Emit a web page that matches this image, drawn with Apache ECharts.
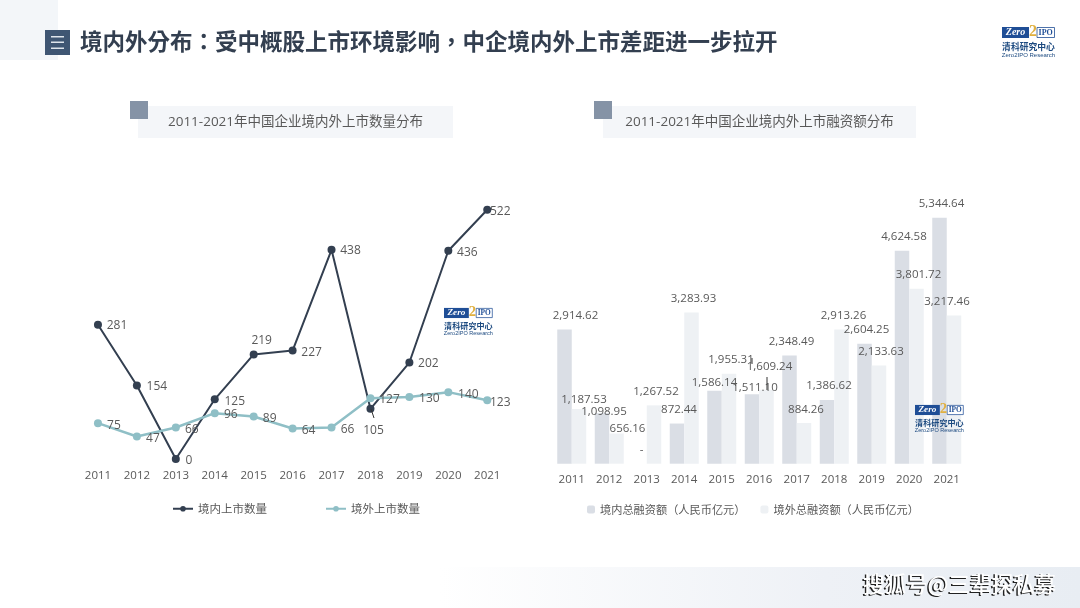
<!DOCTYPE html>
<html lang="en">

<head>
  <meta charset="UTF-8">
  <title>境内外分布</title>
  <script src="https://cdn.jsdelivr.net/npm/echarts@6/dist/echarts.min.js"></script>
  <style>
    html, body { margin: 0; padding: 0; background: #fff; }
    #echarts { width: 1080px; height: 608px; }
  </style>
</head>

<body>
  <div id="echarts"></div>

  <script>
    const years = ['2011','2012','2013','2014','2015','2016','2017','2018','2019','2020','2021'];

    // 上市数量
    const domesticCount = [281,154,0,125,219,227,438,105,202,436,522];
    const overseasCount = [75,47,66,96,89,64,66,127,130,140,123];

    // 融资额（人民币亿元）
    const domesticAmount = [2914.62,1098.95,0,872.44,1586.14,1511.10,2348.49,1386.62,2604.25,4624.58,5344.64];
    const overseasAmount = [1187.53,656.16,1267.52,3283.93,1955.31,1609.24,884.26,2913.26,2133.63,3801.72,3217.46];

    // 标签偏移（相对于默认位置），原图的标签是手工挪过的
    const domesticCountOffset = [[19,1],[20,1],[13,2],[20,2],[8,-14],[19,2],[19,1],[3,22],[19,1],[19,2],[13,2]];
    const overseasCountOffset = [[16,2],[16,2],[16,2],[16,1],[16,2],[16,2],[16,2],[19,1],[20,2],[20,2],[13,2]];
    const domesticAmountOffset = [[11,-3],[2,9],[2,-3],[2,-3],[0,3],[3,4],[2,-3],[2,-3],[2,-3],[2,-3],[2,-3]];
    const overseasAmountOffset = [[5,1],[11,6],[2,-3],[2,-3],[2,-3],[3,-12],[2,-3],[2,-3],[2,-3],[2,-3],[-7,-3]];

    const fontFamily = '"Open Sans","Noto Sans CJK SC",sans-serif';
    const cjkFont = '"Noto Sans CJK SC",sans-serif';
    // TC 字形的标点居中，和原图一致
    const punctFont = '"Noto Sans CJK TC",sans-serif';
    const textColor = '#595959';

    const pointLabels = (values, offsets) => values.map((v, i) => ({
      value: v,
      label: { offset: offsets[i] }
    }));

    const money = v => v === 0 ? '-' : v.toLocaleString('en-US', { minimumFractionDigits: 2, maximumFractionDigits: 2 });

    const lineSeries = (name, values, offsets, color, width) => ({
      name: name,
      type: 'line',
      xAxisIndex: 0,
      yAxisIndex: 0,
      symbol: 'circle',
      symbolSize: 8,
      lineStyle: { color: color, width: width },
      itemStyle: { color: color },
      label: { show: true, position: 'inside', color: textColor, fontSize: 12, fontFamily: fontFamily },
      data: pointLabels(values, offsets)
    });

    const barSeries = (name, values, offsets, color) => ({
      name: name,
      type: 'bar',
      xAxisIndex: 1,
      yAxisIndex: 1,
      barWidth: 14.5,
      barGap: 0,
      itemStyle: { color: color },
      label: {
        show: true, position: 'top', distance: 5, color: textColor, fontSize: 11.5, fontFamily: fontFamily,
        formatter: p => money(p.value)
      },
      data: pointLabels(values, offsets)
    });

    // Zero2IPO 角标
    const logo = (x, y, s) => ({
      type: 'group', x: x, y: y, scaleX: s, scaleY: s,
      children: [
        { type: 'rect', z: 100, shape: { x: 0, y: 1, width: 27, height: 11 }, style: { fill: '#1f4e96' } },
        { type: 'rect', z: 100, shape: { x: 35, y: 1.5, width: 17.5, height: 10 }, style: { fill: '#fff', stroke: '#1f4e96', lineWidth: 0.8 } },
        { type: 'text', z: 101, x: 13.5, y: 6.5, style: { text: 'Zero', fill: '#fff', font: 'italic bold 10px "Liberation Serif"', align: 'center', verticalAlign: 'middle' } },
        { type: 'text', z: 101, x: 31, y: 6, style: { text: '2', fill: '#e0b040', font: 'bold 16px "Liberation Serif"', align: 'center', verticalAlign: 'middle' } },
        { type: 'text', z: 101, x: 43.7, y: 6.5, style: { text: 'IPO', fill: '#1f4e96', font: 'bold 8px "Liberation Serif"', align: 'center', verticalAlign: 'middle' } },
        { type: 'text', z: 101, x: 26.5, y: 20.5, style: { text: '清科研究中心', fill: '#1c4a80', font: 'bold 8.8px ' + cjkFont, align: 'center', verticalAlign: 'middle' } },
        { type: 'text', z: 101, x: 26.5, y: 29, style: { text: 'Zero2IPO Research', fill: '#1c4a80', font: '6px "Liberation Sans"', align: 'center', verticalAlign: 'middle' } }
      ]
    });

    const subTitle = (boxX, boxW, squareX, squareW, text) => [
      { type: 'rect', z: -5, shape: { x: boxX, y: 106, width: boxW, height: 32 }, style: { fill: '#f4f6f9' } },
      { type: 'rect', z: -4, shape: { x: squareX, y: 101, width: squareW, height: 18 }, style: { fill: '#8593a6' } },
      { type: 'text', z: -3, x: boxX + boxW / 2, y: 122, style: { text: text, fill: textColor, font: '13.5px ' + fontFamily, align: 'center', verticalAlign: 'middle' } }
    ];

    const leader = (x1, y1, x2, y2) => ({
      type: 'line', z: 50, shape: { x1: x1, y1: y1, x2: x2, y2: y2 }, style: { stroke: '#333', lineWidth: 1 }
    });

    const watermark = (x, y, fill, z) => ({
      type: 'text', x: x, y: y, z: z,
      style: { text: '搜狐号@三辈探私募', fill: fill, font: '500 21.5px ' + cjkFont, verticalAlign: 'middle' }
    });

    const myChart = echarts.init(document.getElementById('echarts'));
    const option = {
      animation: false,
      backgroundColor: '#fff',
      textStyle: { fontFamily: fontFamily },
      grid: [
        { left: 78.5, width: 428.2, top: 209.7, height: 249.3 },
        { left: 553, width: 412.5, top: 217.7, height: 246 }
      ],
      xAxis: [0, 1].map(i => ({
        type: 'category',
        gridIndex: i,
        data: years,
        axisLine: { show: false },
        axisTick: { show: false },
        axisLabel: { color: textColor, fontSize: 11.5, margin: i === 0 ? 11 : 10, interval: 0 }
      })),
      yAxis: [
        { type: 'value', gridIndex: 0, min: 0, max: 522, show: false },
        { type: 'value', gridIndex: 1, min: 0, max: 5344.64, show: false }
      ],
      legend: [
        {
          data: ['境内上市数量', '境外上市数量'],
          left: 172, top: 503, padding: 0, itemWidth: 20, itemHeight: 7, itemGap: 58,
          textStyle: { color: textColor, fontSize: 11.5, fontFamily: cjkFont }
        },
        {
          data: ['境内总融资额（人民币亿元）', '境外总融资额（人民币亿元）'],
          left: 587, top: 504, padding: 0, itemWidth: 8, itemHeight: 8, itemGap: 15,
          textStyle: { color: textColor, fontSize: 11.2, fontFamily: punctFont }
        }
      ],
      series: [
        lineSeries('境内上市数量', domesticCount, domesticCountOffset, '#333f50', 2),
        lineSeries('境外上市数量', overseasCount, overseasCountOffset, '#8fbfc6', 2.5),
        barSeries('境内总融资额（人民币亿元）', domesticAmount, domesticAmountOffset, '#dadee5'),
        barSeries('境外总融资额（人民币亿元）', overseasAmount, overseasAmountOffset, '#eef1f4')
      ],
      graphic: [
        { type: 'rect', z: -10, shape: { x: 0, y: 0, width: 58, height: 60 }, style: { fill: '#f3f6f9' } },
        {
          type: 'rect', z: -10, shape: { x: 440, y: 567, width: 640, height: 41 },
          style: { fill: new echarts.graphic.LinearGradient(0, 0, 1, 0, [
            { offset: 0, color: '#ffffff' },
            { offset: 0.6, color: '#eef1f6' },
            { offset: 1, color: '#e8edf3' }
          ]) }
        },
        { type: 'rect', shape: { x: 45, y: 30, width: 25, height: 25 }, style: { fill: '#3f5673' } },
        { type: 'rect', shape: { x: 51, y: 36, width: 13, height: 1.5 }, style: { fill: '#dfe5ec' } },
        { type: 'rect', shape: { x: 51, y: 41.5, width: 13, height: 1.5 }, style: { fill: '#dfe5ec' } },
        { type: 'rect', shape: { x: 51, y: 47.5, width: 13, height: 1.5 }, style: { fill: '#dfe5ec' } },
        {
          type: 'text', x: 80, y: 41,
          style: {
            text: '境内外分布：受中概股上市环境影响，中企境内外上市差距进一步拉开',
            fill: '#333f50', font: 'bold 22.5px ' + punctFont, verticalAlign: 'middle'
          }
        },
        ...subTitle(138, 315, 130, 18, '2011-2021年中国企业境内外上市数量分布'),
        ...subTitle(603, 313, 594, 18, '2011-2021年中国企业境内外上市融资额分布'),
        logo(1002, 26, 1),
        logo(444, 307, 0.92),
        logo(915, 404, 0.92),
        leader(371, 409, 374, 418),
        leader(767, 377, 767, 390),
        leader(752, 358, 752, 364),
        watermark(861.5, 585, '#222', 100),
        watermark(863, 584, '#fff', 101)
      ]
    };
    myChart.setOption(option);
  </script>
</body>

</html>
